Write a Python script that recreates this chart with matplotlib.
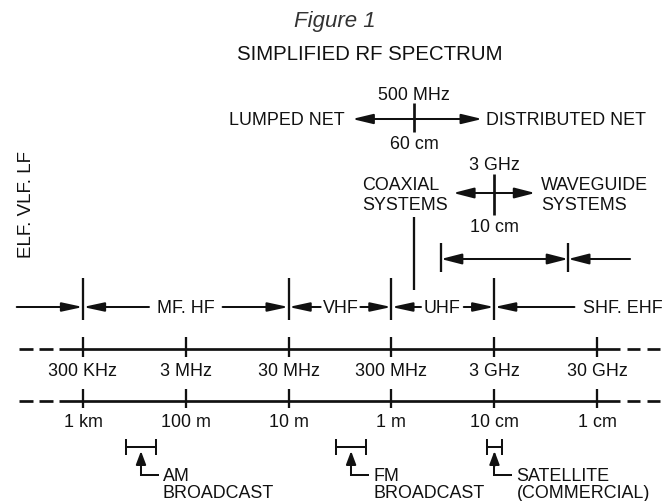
import numpy as np
import matplotlib
matplotlib.use('Agg')
import matplotlib.pyplot as plt
from matplotlib.patches import ArrowStyle

plt.rcParams['font.family'] = ['Liberation Sans', 'DejaVu Sans']
plt.rcParams['lines.scale_dashes'] = False

# ---------------- data ----------------
fig_label = 'Figure 1'
title = 'SIMPLIFIED RF SPECTRUM'
low_bands_label = 'ELF. VLF. LF'

tick_freqs_hz = [3e5, 3e6, 3e7, 3e8, 3e9, 3e10]
freq_labels = ['300 KHz', '3 MHz', '30 MHz', '300 MHz', '3 GHz', '30 GHz']
wave_labels = ['1 km', '100 m', '10 m', '1 m', '10 cm', '1 cm']

band_edges_hz = [3e5, 3e7, 3e8, 3e9]
band_names = ['MF. HF', 'VHF', 'UHF', 'SHF. EHF']
band_label_hz = [3.0e6, 9.6e7, 9.4e8, 5.4e10]
low_band_start_hz = 6.8e4

lumped_dist_hz = 5e8
lumped_label, dist_label = 'LUMPED NET', 'DISTRIBUTED NET'
lumped_freq_label, lumped_wave_label = '500 MHz', '60 cm'

coax_wg_hz = 3e9
coax_label = ['COAXIAL', 'SYSTEMS']
wg_label = ['WAVEGUIDE', 'SYSTEMS']
coax_wg_freq_label, coax_wg_wave_label = '3 GHz', '10 cm'
overlap_hz = [9.1e8, 1.57e10]

services = [['AM', 'BROADCAST'], ['FM', 'BROADCAST'], ['SATELLITE', '(COMMERCIAL)']]
service_lo_hz = [7.85e5, 8.7e7, 2.55e9]
service_hi_hz = [1.54e6, 1.70e8, 3.57e9]

# ---------------- layout / style ----------------
W, H = 668, 501
PPD = 102.8                      # pixels per decade
X0_PX = 83                       # pixel position of 300 KHz
XL = np.log10(3e5) - X0_PX / PPD
XR = XL + W / PPD
INK = '#111111'
FS = 12.9
LW_MAIN, LW_TICK, LW_ARR = 1.95, 1.65, 1.45
PT = 0.72                        # points per pixel at 100 dpi


def L(f, dpx=0.0):
    return np.log10(f) + dpx / PPD


fig = plt.figure(figsize=(W / 100, H / 100), dpi=100)
ax = fig.add_axes([0, 0, 1, 1])
ax.set_xlim(XL, XR)
ax.set_ylim(H, 0)
ax.axis('off')


def txt(x, yc, s, size=FS, ha='center', **kw):
    cap = 0.716 * size * 100 / 72
    return ax.text(x, yc + cap / 2, s, fontsize=size, ha=ha, va='baseline',
                   color=INK, **kw)


def arrow(x_tail, y_tail, x_tip, y_tip, style='-|>', hl=12.5, hw=2.7, lw=LW_ARR):
    ax.annotate('', xy=(x_tip, y_tip), xytext=(x_tail, y_tail),
                arrowprops=dict(arrowstyle=ArrowStyle(style, head_length=hl / 10,
                                                      head_width=hw / 10),
                                mutation_scale=10, lw=lw, color=INK,
                                shrinkA=0, shrinkB=0))


def vline(x, y0, y1, lw=LW_TICK):
    ax.plot([x, x], [y0, y1], color=INK, lw=lw, solid_capstyle='butt')


# titles
ax.text(335 / W, 1 - 22 / H, fig_label, transform=ax.transAxes, fontsize=16,
        style='italic', ha='center', va='center', color='#333333')
ax.text(370 / W, 1 - 55 / H, title, transform=ax.transAxes, fontsize=14.7,
        ha='center', va='center', color=INK)

# low band vertical label
cap = 0.716 * 13.5 * 100 / 72
ax.text(L(3e5, -83 + 24), 204.5, low_bands_label, fontsize=13.5, rotation=90,
        rotation_mode='anchor', ha='center', va='baseline', color=INK,
        transform=ax.transData + matplotlib.transforms.ScaledTranslation(
            cap / 2 / 100, 0, fig.dpi_scale_trans))

# lumped / distributed cross
xc = L(lumped_dist_hz)
txt(xc, 94, lumped_freq_label)
txt(xc, 143, lumped_wave_label)
vline(xc, 103, 132, lw=LW_MAIN)
arrow(xc, 119, L(lumped_dist_hz, -62), 119, hw=3.0)
arrow(xc, 119, L(lumped_dist_hz, 68), 119, hw=3.0)
txt(L(lumped_dist_hz, -70), 119, lumped_label, ha='right')
txt(L(lumped_dist_hz, 72), 119, dist_label, ha='left')

# coax / waveguide cross
xg = L(coax_wg_hz)
txt(xg, 164, coax_wg_freq_label)
txt(xg, 226, coax_wg_wave_label)
vline(xg, 174, 215, lw=LW_MAIN)
arrow(xg, 193, L(coax_wg_hz, -41), 193, hw=3.2)
arrow(xg, 193, L(coax_wg_hz, 41), 193, hw=3.2)
for i, (a, b) in enumerate(zip(coax_label, wg_label)):
    txt(L(coax_wg_hz, -132), 184 + 19.5 * i, a, ha='left')
    txt(L(coax_wg_hz, 47), 184 + 19.5 * i, b, ha='left')

# coax line from lumped crossover down to band row
vline(xc, 217, 290, lw=LW_TICK)

# waveguide range bracket
xa, xb = L(overlap_hz[0]), L(overlap_hz[1])
vline(xa, 243, 272)
vline(xb, 243, 272)
arrow(xa, 259, xb, 259, style='<|-|>', hw=3.2)
arrow(L(overlap_hz[1], 62), 259, xb, 259, hw=3.2)

# band row
Y_BAND = 307
for e in band_edges_hz:
    vline(L(e), 278, 320)
arrow(L(low_band_start_hz), Y_BAND, L(band_edges_hz[0]), Y_BAND)
renderer = fig.canvas.get_renderer()
inv = ax.transData.inverted()
gaps = [8, 2, 3, 9]
for i, (name, fc) in enumerate(zip(band_names, band_label_hz)):
    t = txt(L(fc), Y_BAND, name)
    bb = t.get_window_extent(renderer)
    x0 = inv.transform((bb.x0, bb.y0))[0]
    x1 = inv.transform((bb.x1, bb.y0))[0]
    g = gaps[i] / PPD
    arrow(x0 - g, Y_BAND, L(band_edges_hz[i]), Y_BAND)
    if i + 1 < len(band_edges_hz):
        arrow(x1 + g, Y_BAND, L(band_edges_hz[i + 1]), Y_BAND)


# scale lines
def scale_line(y, labels, y_lab, t_up, t_dn):
    xs0, xs1 = L(3e5, 59 - 83), L(3e5, 620 - 83)
    ax.plot([xs0, xs1], [y, y], color=INK, lw=LW_MAIN, solid_capstyle='butt')
    ax.plot([xs0 - 40 / PPD, xs0], [y, y], color=INK, lw=LW_MAIN,
            dashes=(14 * PT, 6 * PT), dash_capstyle='butt')
    ax.plot([xs1 + 40 / PPD, xs1], [y, y], color=INK, lw=LW_MAIN,
            dashes=(13 * PT, 7 * PT), dash_capstyle='butt')
    for f, lab in zip(tick_freqs_hz, labels):
        vline(L(f), y - t_up, y + t_dn)
        txt(L(f), y_lab, lab)


scale_line(349, freq_labels, 370, 12, 8)
scale_line(401, wave_labels, 421, 12, 7)

# services
for lo, hi, name in zip(service_lo_hz, service_hi_hz, services):
    xl, xh = L(lo), L(hi)
    xm = (xl + xh) / 2
    ax.plot([xl, xh], [447, 447], color=INK, lw=LW_ARR, solid_capstyle='butt')
    vline(xl, 439, 455, lw=LW_ARR)
    vline(xh, 439, 455, lw=LW_ARR)
    ax.plot([xm, xm, xm + 18 / PPD], [462, 475, 475], color=INK, lw=LW_ARR,
            solid_joinstyle='miter', solid_capstyle='butt')
    arrow(xm, 466, xm, 451, hl=8.0, hw=3.0)
    txt(xm + 22 / PPD, 475, name[0], ha='left')
    txt(xm + 22 / PPD, 491.5, name[1], ha='left')

fig.savefig('out.png', dpi=100)
